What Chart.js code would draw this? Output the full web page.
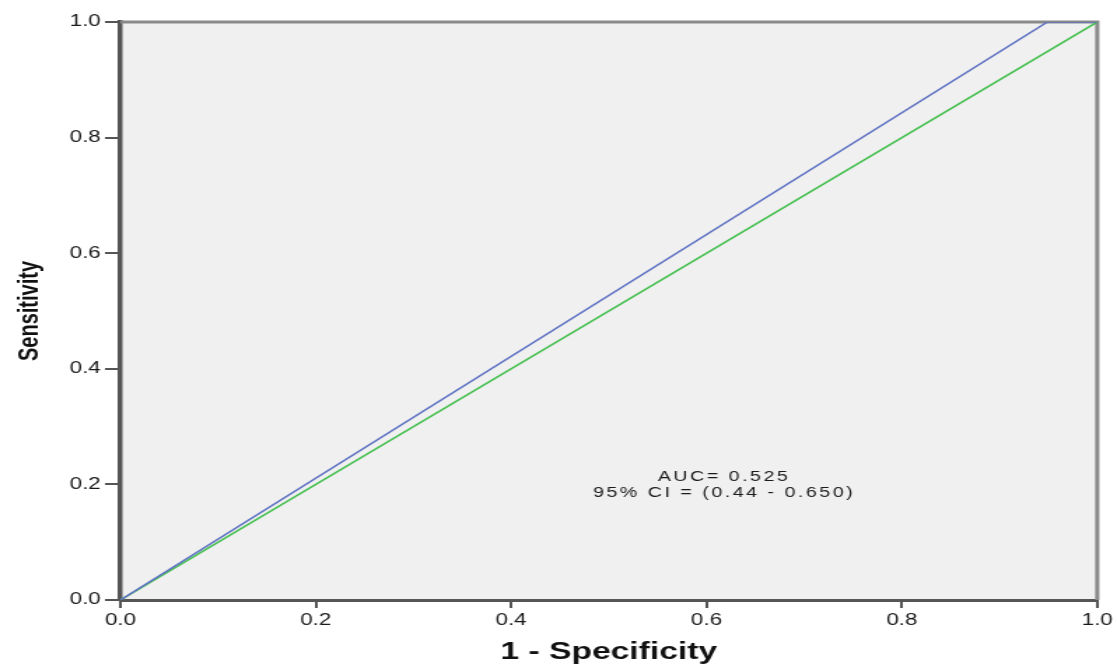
<!DOCTYPE html>
<html>
<head>
<meta charset="utf-8">
<script src="https://cdn.jsdelivr.net/npm/chart.js@4"></script>
<style>
    html, body { margin: 0; padding: 0; background: #fff; overflow: hidden; }
    #caixa {
        width: 798px; height: 664px;
        transform: scaleX(1.39975); transform-origin: 0 0;
    }
</style>
</head>
<body>
<div id="caixa"><canvas id="roc"></canvas></div>
<script>
// curva ROC
var rocX = [0, 0.949, 1];
var rocY = [0, 1, 1];
var refX = [0, 1];
var refY = [0, 1];
var ticksEixo = [0, 0.2, 0.4, 0.6, 0.8, 1.0];
var textoAuc = ['AUC= 0.525', '95% CI = (0.44 - 0.650)'];
var posTexto = { x: 0.618, y: 0.199 };

function pontos(xs, ys) {
    var lista = [];
    for (var i = 0; i < xs.length; i++) {
        lista.push({ x: xs[i], y: ys[i] });
    }
    return lista;
}

var fundo = {
    id: 'fundo',
    beforeDraw: function (chart) {
        var a = chart.chartArea;
        var ctx = chart.ctx;
        ctx.save();
        ctx.fillStyle = '#f0f0f0';
        ctx.fillRect(a.left, a.top, a.right - a.left, a.bottom - a.top);
        ctx.restore();
    },
    beforeDatasetsDraw: function (chart) {
        var a = chart.chartArea;
        var ctx = chart.ctx;
        ctx.save();
        ctx.strokeStyle = '#8a8a8a';
        ctx.lineWidth = 3;
        ctx.beginPath();
        ctx.moveTo(a.left, a.top);
        ctx.lineTo(a.right, a.top);
        ctx.lineTo(a.right, a.bottom);
        ctx.stroke();
        ctx.restore();
    },
    afterDraw: function (chart) {
        var ctx = chart.ctx;
        var px = chart.scales.x.getPixelForValue(posTexto.x);
        var py = chart.scales.y.getPixelForValue(posTexto.y);
        ctx.save();
        ctx.font = '14px "Liberation Sans", Arial, sans-serif';
        ctx.letterSpacing = '1.8px';
        ctx.fillStyle = '#1a1a1a';
        ctx.textAlign = 'center';
        ctx.textBaseline = 'middle';
        ctx.fillText(textoAuc[0], px, py - 8);
        ctx.fillText(textoAuc[1], px, py + 8);
        ctx.restore();
    }
};

var ctx = document.getElementById('roc').getContext('2d');

var grafico = new Chart(ctx, {
    type: 'scatter',
    data: {
        datasets: [{
            label: 'ROC',
            data: pontos(rocX, rocY),
            showLine: true,
            borderColor: '#6174c4',
            borderWidth: 1.6,
            pointRadius: 0,
            fill: false
        }, {
            label: 'Referencia',
            data: pontos(refX, refY),
            showLine: true,
            borderColor: '#46c050',
            borderWidth: 1.6,
            pointRadius: 0,
            fill: false
        }]
    },
    options: {
        responsive: true,
        maintainAspectRatio: false,
        animation: false,
        layout: { padding: { left: 0, right: 12, top: 22, bottom: 0 } },
        plugins: {
            legend: { display: false },
            tooltip: { enabled: false }
        },
        scales: {
            x: {
                type: 'linear',
                min: 0,
                max: 1,
                afterBuildTicks: function (s) {
                    s.ticks = ticksEixo.map(function (v) { return { value: v }; });
                },
                afterFit: function (s) { s.height = 64; },
                ticks: {
                    callback: function (v) { return v.toFixed(1); },
                    color: '#1a1a1a',
                    padding: 3,
                    maxRotation: 0,
                    font: { family: '"Liberation Sans", Arial, sans-serif', size: 16 }
                },
                grid: {
                    drawOnChartArea: false,
                    color: '#555',
                    lineWidth: 2,
                    tickLength: 8
                },
                border: { color: '#555', width: 3 },
                title: {
                    display: true,
                    text: '1 - Specificity',
                    color: '#111',
                    padding: 0,
                    font: { family: '"Liberation Sans", Arial, sans-serif', size: 24, weight: 'bold', lineHeight: 1 }
                }
            },
            y: {
                type: 'linear',
                min: 0,
                max: 1,
                afterBuildTicks: function (s) {
                    s.ticks = ticksEixo.map(function (v) { return { value: v }; });
                },
                afterFit: function (s) { s.width = 86; },
                ticks: {
                    callback: function (v) { return v.toFixed(1); },
                    color: '#1a1a1a',
                    padding: 3,
                    font: { family: '"Liberation Sans", Arial, sans-serif', size: 16 }
                },
                grid: {
                    drawOnChartArea: false,
                    color: '#555',
                    lineWidth: 2,
                    tickLength: 11
                },
                border: { color: '#555', width: 3.5 },
                title: {
                    display: true,
                    text: 'Sensitivity',
                    color: '#111',
                    padding: { top: 9, bottom: 0 },
                    font: { family: '"Liberation Sans", Arial, sans-serif', size: 20, weight: 'bold', lineHeight: 1.2 }
                }
            }
        }
    },
    plugins: [fundo]
});
</script>
</body>
</html>
